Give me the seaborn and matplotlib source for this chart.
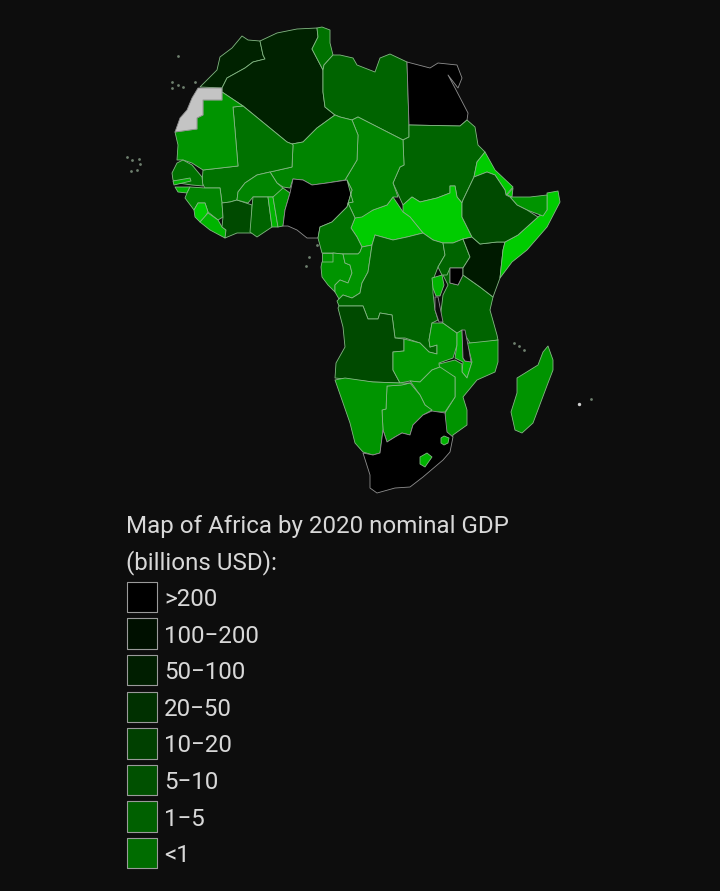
#1.imports
import matplotlib
matplotlib.use("Agg")
import matplotlib.pyplot as plt
import pandas as pd
import seaborn as sns

sns.set_theme(style="white")
plt.rcParams["font.family"] = ["Roboto", "DejaVu Sans"]

BG = "#0d0d0d"

#2.data
title_lines = ["Map of Africa by 2020 nominal GDP", "(billions USD):"]
legend_labels = [">200", "100\u2212200", "50\u2212100", "20\u221250", "10\u221220", "5\u221210", "1\u22125", "<1"]
legend_colors = ["#000000", "#001000", "#001e00", "#003000", "#004000", "#005000", "#006000", "#006c00"]

# shades seen on the map itself, darkest to brightest
map_shades = ["#000000", "#001a00", "#002200", "#004a00", "#006400", "#007200", "#008400", "#009400", "#00b400", "#00cc00"]

morocco = [(200,87),(217,70),(220,57),(232,48),(242,36),(248,40),(260,41),(263,55),(265,59),(253,62),(245,68),(227,78),(222,88)]
algeria = [(260,41),(277,33),(297,29),(317,28),(318,37),(312,49),(323,70),(323,92),(325,107),(335,115),(317,128),(303,142),(292,144),(287,142),(243,106),(222,92),(222,88),(227,78),(245,68),(253,62),(265,59),(263,55)]
tunisia = [(317,28),(322,27),(330,30),(330,43),(333,55),(324,65),(323,70),(312,49),(318,37)]
libya = [(333,55),(340,55),(353,58),(357,65),(375,72),(380,58),(390,54),(407,62),(409,125),(409,137),(403,140),(358,117),(352,120),(340,117),(335,115),(325,107),(323,92),(323,70),(324,65)]
egypt = [(407,62),(430,68),(438,63),(457,65),(462,78),(458,88),(448,75),(455,88),(468,113),(467,120),(460,126),(409,125)]
sudan = [(409,125),(460,126),(467,120),(475,127),(478,145),(485,152),(477,162),(474,177),(463,200),(462,203),(457,197),(455,186),(450,186),(450,193),(437,198),(420,202),(412,197),(403,205),(393,183),(400,167),(404,165),(403,140),(409,137)]
south_sudan = [(403,205),(412,197),(420,202),(437,198),(450,193),(450,186),(455,186),(457,197),(462,203),(462,217),(472,237),(463,239),(453,243),(443,243),(433,240),(423,233),(410,217),(403,212)]
car = [(393,197),(403,212),(410,217),(423,233),(407,237),(393,240),(375,235),(372,245),(362,247),(357,237),(351,228),(355,218),(373,210),(387,205)]
chad = [(358,117),(403,140),(404,165),(400,167),(393,183),(398,197),(393,197),(387,205),(373,210),(362,217),(355,218),(348,203),(353,202),(345,180),(357,160),(358,135),(352,120)]
niger = [(335,115),(340,117),(352,120),(358,135),(357,160),(345,180),(327,183),(312,185),(303,180),(293,179),(290,188),(283,187),(277,183),(270,172),(292,167),(293,145),(292,144),(303,142),(317,128)]
mali = [(233,107),(243,106),(287,142),(292,144),(293,145),(292,167),(270,172),(257,175),(245,183),(238,192),(237,200),(230,202),(222,203),(220,188),(205,188),(202,183),(203,170),(238,166),(235,130)]
mauritania = [(222,92),(243,106),(233,107),(235,130),(238,166),(203,170),(192,163),(183,160),(177,160),(178,145),(175,132),(197,129),(197,118),(203,115),(203,100),(222,100)]
western_sahara = [(198,88),(222,88),(222,100),(203,100),(203,115),(197,118),(197,129),(175,132),(180,118),(187,110),(192,98)]
senegal = [(172,173),(177,163),(183,160),(192,165),(202,177),(203,186),(192,185),(178,183),(173,180)]
gambia = [(173,181),(190,178),(191,181),(174,185)]
guinea_bissau = [(175,187),(190,187),(187,193),(178,192)]
guinea = [(190,187),(205,188),(220,188),(222,203),(223,217),(218,220),(208,212),(205,203),(198,203),(194,210),(185,198),(187,193)]
sierra_leone = [(194,210),(198,203),(205,203),(208,212),(205,217),(200,222),(195,217)]
liberia = [(200,222),(208,213),(218,220),(222,227),(226,230),(225,238),(210,230)]
ivory_coast = [(222,203),(230,202),(237,200),(252,205),(252,233),(237,233),(225,238),(226,230),(222,227),(223,217)]
burkina = [(237,200),(238,192),(245,183),(257,175),(270,172),(277,183),(283,188),(277,197),(253,197),(248,203),(237,200)]
ghana = [(253,197),(268,197),(272,227),(257,237),(250,232),(252,207)]
togo = [(268,197),(273,197),(278,227),(272,227)]
benin = [(273,197),(283,188),(290,193),(285,210),(283,226),(278,227)]
nigeria = [(293,179),(303,180),(312,185),(327,183),(347,180),(352,190),(347,207),(337,217),(332,222),(320,227),(318,238),(307,238),(297,230),(288,226),(283,226),(285,210),(290,193)]
cameroon = [(352,190),(347,180),(353,202),(348,203),(355,218),(351,228),(357,237),(362,247),(360,252),(358,254),(343,254),(333,253),(322,253),(318,238),(320,227),(332,222),(337,217),(347,207)]
eq_guinea = [(322,253),(333,253),(333,262),(322,262)]
gabon = [(321,267),(322,262),(333,262),(333,253),(343,254),(345,263),(350,265),(352,273),(348,283),(340,280),(335,285),(335,292),(328,285),(322,277)]
congo = [(343,254),(358,254),(360,252),(362,247),(372,245),(368,272),(362,283),(360,293),(352,298),(343,295),(339,299),(335,292),(335,285),(340,280),(348,283),(352,273),(350,265),(345,263)]
drc = [(339,299),(343,295),(352,298),(360,293),(362,283),(368,272),(372,245),(375,235),(393,240),(407,237),(423,233),(433,240),(443,243),(445,255),(438,267),(433,280),(433,293),(435,310),(438,320),(432,323),(429,340),(430,347),(437,345),(437,354),(429,352),(420,343),(405,338),(395,338),(392,315),(380,313),(378,319),(368,319),(363,306),(339,306),(337,301)]
angola = [(339,306),(363,306),(368,319),(378,319),(380,313),(392,315),(395,338),(404,339),(404,351),(393,352),(393,370),(400,383),(373,382),(335,378),(336,363),(345,347),(343,327),(338,308)]
zambia = [(404,339),(420,343),(429,352),(437,354),(437,345),(430,347),(429,340),(432,323),(443,323),(457,333),(457,345),(453,358),(439,363),(440,367),(432,370),(420,382),(410,381),(400,383),(393,370),(393,352),(404,351)]
malawi = [(457,332),(462,330),(463,358),(465,361),(472,362),(467,378),(462,372),(463,362),(455,358),(457,345)]
tanzania = [(443,275),(448,285),(443,295),(440,320),(443,323),(457,333),(462,330),(470,343),(480,343),(498,340),(497,335),(490,310),(493,297),(480,287),(463,275),(458,285),(450,283),(450,268)]
rwanda_burundi = [(432,278),(442,275),(444,285),(440,296),(436,296),(433,288)]
lake_victoria = [(450,268),(463,268),(463,275),(458,285),(450,283)]
uganda = [(445,255),(443,243),(453,243),(463,239),(470,257),(463,268),(450,268),(447,275),(442,275),(438,267)]
kenya = [(463,239),(472,237),(480,244),(497,242),(505,242),(503,250),(500,278),(493,297),(480,287),(463,275),(463,268),(470,257)]
somalia = [(505,242),(518,235),(538,217),(547,210),(547,193),(558,191),(560,202),(547,227),(527,250),(512,262),(500,278),(503,250)]
somaliland = [(510,197),(530,197),(547,195),(547,210),(543,216),(527,210),(517,205)]
djibouti = [(507,195),(513,188),(512,197)]
eritrea = [(485,152),(495,170),(513,187),(506,195),(505,190),(495,175),(487,172),(474,177),(477,162)]
ethiopia = [(474,177),(487,172),(495,175),(505,190),(506,195),(510,197),(517,205),(527,210),(538,217),(518,235),(505,242),(497,242),(480,244),(472,237),(462,217),(462,203),(463,200)]
mozambique = [(498,340),(498,362),(495,372),(477,380),(463,397),(467,410),(467,425),(453,435),(452,440),(446,432),(445,413),(455,397),(455,377),(440,371),(439,364),(455,360),(462,364),(462,372),(467,378),(472,362),(469,350),(467,343),(470,343)]
zimbabwe = [(410,381),(420,382),(432,370),(440,367),(455,377),(455,397),(445,412),(433,412),(425,405),(420,395)]
botswana = [(387,386),(400,385),(410,383),(420,395),(425,405),(432,410),(423,415),(413,425),(410,435),(402,433),(395,437),(387,442),(383,430),(382,410),(386,409)]
namibia = [(335,380),(345,378),(373,382),(400,383),(410,383),(402,385),(387,386),(386,409),(382,410),(383,430),(380,453),(373,455),(363,452),(355,443),(350,423),(342,400)]
south_africa = [(363,453),(373,455),(380,453),(383,430),(387,442),(395,437),(402,433),(410,435),(413,425),(423,415),(432,411),(445,413),(447,432),(453,437),(450,452),(443,460),(423,477),(410,487),(395,488),(377,493),(370,488),(370,475)]
lesotho = [(420,457),(427,453),(432,457),(425,467),(420,464)]
eswatini = [(444,436),(449,438),(448,443),(444,445),(441,443),(441,438)]
madagascar = [(548,346),(553,360),(553,370),(548,383),(533,423),(522,433),(515,430),(511,412),(517,393),(517,378),(538,365),(543,352)]
lake_tanganyika = [(435,297),(438,297),(443,322),(439,322),(435,310)]
lake_malawi = [(462,330),(465,330),(469,350),(471,362),(465,361),(463,358)]

# name, outline, shade index (-1 grey for no data, -2 for water)
countries = [
    ("Morocco", morocco, 2), ("Algeria", algeria, 2), ("Tunisia", tunisia, 5), ("Libya", libya, 4),
    ("Egypt", egypt, 0), ("Sudan", sudan, 4), ("South Sudan", south_sudan, 9), ("CAR", car, 9),
    ("Chad", chad, 6), ("Niger", niger, 6), ("Mali", mali, 5), ("Mauritania", mauritania, 7),
    ("Western Sahara", western_sahara, -1), ("Senegal", senegal, 5), ("Gambia", gambia, 8),
    ("Guinea-Bissau", guinea_bissau, 8), ("Guinea", guinea, 6), ("Sierra Leone", sierra_leone, 9),
    ("Liberia", liberia, 8), ("Ivory Coast", ivory_coast, 3), ("Burkina Faso", burkina, 6),
    ("Ghana", ghana, 4), ("Togo", togo, 8), ("Benin", benin, 7), ("Nigeria", nigeria, 0),
    ("Cameroon", cameroon, 5), ("Eq Guinea", eq_guinea, 7), ("Gabon", gabon, 7), ("Congo", congo, 7),
    ("DRC", drc, 4), ("Angola", angola, 3), ("Zambia", zambia, 7), ("Malawi", malawi, 8),
    ("Tanzania", tanzania, 4), ("Rwanda Burundi", rwanda_burundi, 8), ("Uganda", uganda, 4),
    ("Lake Victoria", lake_victoria, 0), ("Kenya", kenya, 1), ("Somalia", somalia, 9),
    ("Somaliland", somaliland, 7), ("Djibouti", djibouti, 9), ("Eritrea", eritrea, 9),
    ("Ethiopia", ethiopia, 3), ("Mozambique", mozambique, 7), ("Zimbabwe", zimbabwe, 7),
    ("Botswana", botswana, 7), ("Namibia", namibia, 7), ("South Africa", south_africa, 0),
    ("Lesotho", lesotho, 8), ("Eswatini", eswatini, 8), ("Madagascar", madagascar, 7),
    ("Lake Tanganyika", lake_tanganyika, -2), ("Lake Malawi", lake_malawi, -2),
]

# small islands
island_x = [178, 172, 172, 178, 183, 195, 127, 132, 139, 140, 131, 137, 317, 309, 306, 514, 519, 524, 591]
island_y = [56, 82, 88, 85, 87, 82, 157, 160, 159, 164, 171, 170, 245, 257, 266, 343, 346, 350, 399]
mauritius_x = [579]
mauritius_y = [404]

#3.plot
fig, ax = plt.subplots(figsize=(7.2, 8.91), dpi=100)
fig.patch.set_facecolor(BG)
ax.set_facecolor(BG)
ax.set_position([0, 0, 1, 1])

for name, outline, shade in countries:
    if shade == -1:
        color = "#c4c4c4"
    elif shade == -2:
        color = BG
    else:
        color = map_shades[shade]
    edge = "#8f8f8f" if shade in (0, -1, -2) else "#84b884"
    xs = [p[0] for p in outline]
    ys = [p[1] for p in outline]
    ax.fill(xs, ys, facecolor=color, edgecolor=edge, linewidth=0.6, joinstyle="round")

sns.scatterplot(x=island_x, y=island_y, color="#6f806f", s=4, linewidth=0, ax=ax)
sns.scatterplot(x=mauritius_x, y=mauritius_y, color="#d0d0d0", s=6, linewidth=0, ax=ax)

#4.legend
legend_df = pd.DataFrame({"row": range(len(legend_labels)), "label": legend_labels})
legend_df["x"] = 142
legend_df["y"] = 597 + legend_df["row"] * 36.6
sns.scatterplot(
    data=legend_df, x="x", y="y", hue="label", palette=legend_colors,
    marker="s", s=480, edgecolor="#9a9a9a", linewidth=0.8, legend=False, ax=ax,
)
for _, row in legend_df.iterrows():
    ax.text(164, row["y"], row["label"], color="#d8d8d8", fontsize=17.4, va="center_baseline", ha="left")

ax.text(126, 524, title_lines[0], color="#d8d8d8", fontsize=17.4, va="center_baseline", ha="left")
ax.text(126, 560, title_lines[1], color="#d8d8d8", fontsize=17.4, va="center_baseline", ha="left")

ax.set_xlim(0, 720)
ax.set_ylim(891, 0)
ax.set_xlabel("")
ax.set_ylabel("")
ax.axis("off")

fig.savefig("out.png", dpi=100, facecolor=BG)
